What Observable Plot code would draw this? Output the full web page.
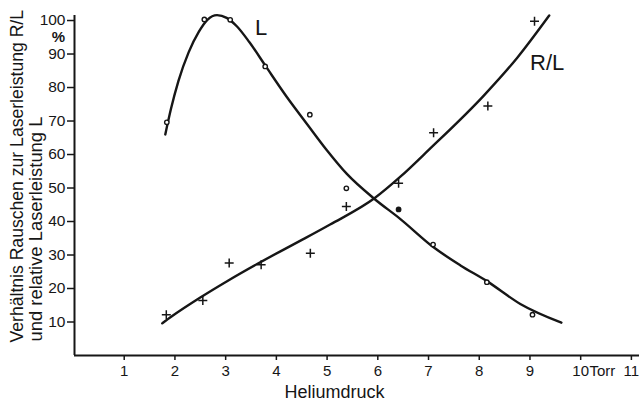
<!DOCTYPE html>
<html>
<head>
<meta charset="utf-8">
<script src="https://cdn.jsdelivr.net/npm/d3@7"></script>
<script src="https://cdn.jsdelivr.net/npm/@observablehq/plot@0.6"></script>
<style>
  html, body { margin: 0; padding: 0; background: #fff; }
  #chart { width: 639px; height: 400px; }
</style>
</head>
<body>
<div id="chart"></div>
<script>
// ---- data ----
// measured points, relative laser power L (circles)
const lPointX = [1.82, 2.56, 3.07, 3.76, 4.64, 5.36, 6.39, 7.07, 8.13, 9.03];
const lPointY = [69.6, 100.3, 100.2, 86.3, 71.9, 49.9, 43.6, 33.1, 21.9, 12.2];
const lPointFilled = [false, false, false, false, false, false, true, false, false, false];
// measured points, noise ratio R/L (plus signs)
const rlPointX = [1.81, 2.53, 3.05, 3.68, 4.65, 5.36, 6.39, 7.08, 8.15, 9.07];
const rlPointY = [12.2, 16.4, 27.6, 27.1, 30.5, 44.5, 51.4, 66.5, 74.5, 99.8];
// hand-drawn fitted curve L
const lCurveX = [1.79, 1.90, 2.05, 2.25, 2.45, 2.62, 2.81, 3.00, 3.20, 3.45, 3.76, 4.19, 4.58, 4.98, 5.37, 5.91, 6.42, 7.08, 7.61, 8.13, 8.79, 9.60];
const lCurveY = [66.0, 73.5, 82.0, 90.5, 96.6, 100.2, 101.6, 100.8, 98.3, 93.5, 86.6, 77.1, 69.2, 61.2, 54.2, 46.8, 40.8, 32.3, 26.9, 22.2, 15.4, 9.8];
// hand-drawn fitted curve R/L
const rlCurveX = [1.73, 1.92, 2.48, 3.00, 3.60, 4.06, 4.52, 5.04, 5.92, 6.42, 7.00, 8.07, 8.73, 9.36];
const rlCurveY = [9.6, 11.7, 17.3, 22.1, 27.3, 31.1, 34.8, 39.1, 47.0, 53.3, 61.6, 77.6, 88.9, 101.5];
// axis ticks and labels
const xTicks = [1, 2, 3, 4, 5, 6, 7, 8, 9, 10, 11];
const yTicks = [10, 20, 30, 40, 50, 60, 70, 80, 90, 100];
const curveLabels = ["L", "R/L"];
const curveLabelX = [3.68, 9.32];
const curveLabelY = [97.8, 87.2];
const xTitle = "Heliumdruck";
const xUnit = "Torr";
const yUnit = "%";
const yTitle1 = "Verhältnis Rauschen zur Laserleistung R/L";
const yTitle2 = "und relative Laserleistung L";

// ---- tables built from the arrays ----
const lPoints = lPointX.map((x, i) => ({x, y: lPointY[i], filled: lPointFilled[i]}));
const rlPoints = rlPointX.map((x, i) => ({x, y: rlPointY[i]}));
const lCurve = lCurveX.map((x, i) => ({x, y: lCurveY[i]}));
const rlCurve = rlCurveX.map((x, i) => ({x, y: rlCurveY[i]}));
const labels = curveLabels.map((t, i) => ({t, x: curveLabelX[i], y: curveLabelY[i]}));

const ink = "#161616";
const textFont = "'Liberation Sans', Arial, sans-serif";

const chart = Plot.plot({
  width: 639,
  height: 400,
  marginLeft: 74,
  marginRight: 0,
  marginTop: 15,
  marginBottom: 45,
  x: {domain: [0, 11.14]},
  y: {domain: [0, 101.5]},
  style: {background: "#fff", color: ink, fontFamily: textFont},
  marks: [
    Plot.axisX(xTicks, {tickSize: 5, tickPadding: 5, strokeWidth: 1.5, fontSize: 15, dx: -1, label: null, tickFormat: d => String(d)}),
    Plot.axisY(yTicks, {tickSize: 7, tickPadding: 2, strokeWidth: 1.5, fontSize: 15.5, label: null, tickFormat: d => String(d)}),
    Plot.ruleY([0], {stroke: ink, strokeWidth: 2.2}),
    Plot.ruleX([0], {stroke: ink, strokeWidth: 2}),
    Plot.line(lCurve, {x: "x", y: "y", curve: "monotone-x", stroke: ink, strokeWidth: 2.4}),
    Plot.line(rlCurve, {x: "x", y: "y", curve: "monotone-x", stroke: ink, strokeWidth: 2.4}),
    Plot.dot(lPoints, {x: "x", y: "y", r: 2.2, stroke: ink, strokeWidth: 1.4, fill: d => d.filled ? ink : "#fff"}),
    Plot.dot(rlPoints, {x: "x", y: "y", symbol: "plus", r: 3, stroke: ink, strokeWidth: 1.5}),
    Plot.text(labels, {x: "x", y: "y", text: "t", fontSize: 22, fill: ink}),
    Plot.text([xTitle], {frameAnchor: "bottom-left", dx: 260, dy: 42, lineAnchor: "bottom", textAnchor: "middle", fontSize: 18, fill: ink}),
    Plot.text([xUnit], {frameAnchor: "bottom-left", dx: 515, dy: 20.5, lineAnchor: "bottom", textAnchor: "start", fontSize: 15, fill: ink}),
    Plot.text([yUnit], {frameAnchor: "top-left", dx: -16, dy: 22, lineAnchor: "middle", textAnchor: "middle", fontSize: 15, fontWeight: "bold", fill: ink}),
    Plot.text([yTitle1], {frameAnchor: "bottom-left", dx: -52, dy: -13, rotate: -90, lineAnchor: "bottom", textAnchor: "start", fontSize: 17.6, fill: ink}),
    Plot.text([yTitle2], {frameAnchor: "bottom-left", dx: -33, dy: -14, rotate: -90, lineAnchor: "bottom", textAnchor: "start", fontSize: 18.4, fill: ink})
  ]
});
document.getElementById("chart").appendChild(chart);
</script>
</body>
</html>
